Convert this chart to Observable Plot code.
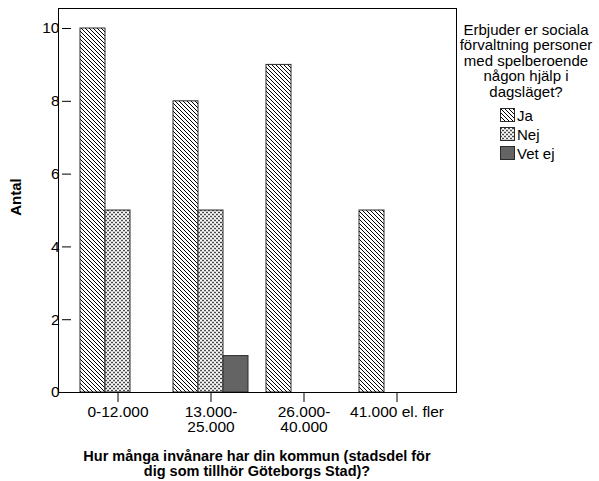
<!DOCTYPE html>
<html><head><meta charset="utf-8">
<script src="https://cdn.jsdelivr.net/npm/d3@7"></script>
<script src="https://cdn.jsdelivr.net/npm/@observablehq/plot@0.6"></script>
<style>
body{margin:0;background:#fff;}
#wrap{position:relative;width:599px;height:481px;}
</style></head><body><div id="wrap"></div>
<script>
const categories = ["0-12.000", "13.000-\n25.000", "26.000-\n40.000", "41.000 el. fler"];
const seriesNames = ["Ja", "Nej", "Vet ej"];
const jaValues = [10, 8, 9, 5];
const nejValues = [5, 5, 0, 0];
const vetEjValues = [0, 1, 0, 0];
const yTicks = [0, 2, 4, 6, 8, 10];
const legendTitle = ["Erbjuder er sociala", "förvaltning personer", "med spelberoende", "någon hjälp i", "dagsläget?"];
const xTitle = ["Hur många invånare har din kommun (stadsdel för", "dig som tillhör Göteborgs Stad)?"];
const yTitle = "Antal";

(function () {
const FONT = "'Liberation Sans', Arial, sans-serif";
const fills = ["url(#pat-ja)", "url(#pat-nej)", "#646464"];

const data = [];
categories.forEach((c, i) => {
  [jaValues, nejValues, vetEjValues].forEach((arr, j) => {
    data.push({category: c, series: seriesNames[j], value: arr[i]});
  });
});

const plot = Plot.plot({
  width: 599, height: 481,
  marginLeft: 58, marginRight: 143, marginTop: 8, marginBottom: 89,
  style: {fontFamily: FONT, fontSize: "15.5px", color: "#000", background: "#fff", overflow: "visible"},
  fx: {domain: categories, paddingInner: 0, paddingOuter: 0.118, axis: "bottom", label: null, tickSize: 10, tickPadding: 3},
  x: {domain: seriesNames, paddingInner: 0, paddingOuter: 0.345, axis: null},
  y: {domain: [0, 10.55], ticks: yTicks, tickSize: 9, tickPadding: 3, label: null},
  color: {domain: seriesNames, range: fills},
  marks: [
    Plot.barY(data, {fx: "category", x: "series", y: "value", fill: "series", stroke: "#2a2a2a", strokeWidth: 1})
  ]
});

document.getElementById("wrap").appendChild(plot);
const svg = d3.select(plot);
svg.selectAll("g[aria-label*='tick label']").attr("font-size", 15.5).attr("font-family", FONT);
svg.selectAll("g[aria-label*='tick label'] text").attr("font-size", 15.5);

// patterns
const defs = svg.insert("defs", ":first-child");
const pJa = defs.append("pattern").attr("id", "pat-ja").attr("patternUnits", "userSpaceOnUse").attr("width", 4).attr("height", 4);
pJa.append("rect").attr("width", 4).attr("height", 4).attr("fill", "#fff");
pJa.append("path").attr("d", "M-1,-1L5,5M-1,3L1,5M3,-1L5,1").attr("stroke", "#000").attr("stroke-width", 1);
const pNej = defs.append("pattern").attr("id", "pat-nej").attr("patternUnits", "userSpaceOnUse").attr("width", 4).attr("height", 4);
pNej.append("rect").attr("width", 4).attr("height", 4).attr("fill", "#cfcfcf");
pNej.append("rect").attr("x", 0).attr("y", 0).attr("width", 2).attr("height", 1).attr("fill", "#4a4a4a");
pNej.append("rect").attr("x", 2).attr("y", 2).attr("width", 2).attr("height", 1).attr("fill", "#4a4a4a");
pNej.append("rect").attr("x", 2).attr("y", 0).attr("width", 2).attr("height", 1).attr("fill", "#fff");
pNej.append("rect").attr("x", 0).attr("y", 2).attr("width", 2).attr("height", 1).attr("fill", "#fff");

// frame from the library's scales
const fxR = plot.scale("fx").range;
const yR = plot.scale("y").range;
const fLeft = Math.min(...fxR), fRight = Math.max(...fxR);
const fBottom = Math.max(...yR), fTop = Math.min(...yR);
svg.append("rect")
  .attr("x", fLeft + 0.5).attr("y", fTop + 0.5)
  .attr("width", fRight - fLeft).attr("height", fBottom - fTop)
  .attr("fill", "none").attr("stroke", "#000").attr("stroke-width", 1);

// axis titles
svg.append("text")
  .attr("transform", `translate(15,${(fTop + fBottom) / 2 - 3}) rotate(-90)`)
  .attr("text-anchor", "middle").attr("dominant-baseline", "central")
  .attr("font-family", FONT).attr("font-size", 15).attr("font-weight", "bold").attr("fill", "#000")
  .text(yTitle);
xTitle.forEach((t, i) => {
  svg.append("text")
    .attr("x", (fLeft + fRight) / 2).attr("y", 456 + i * 15)
    .attr("text-anchor", "middle").attr("dominant-baseline", "central")
    .attr("font-family", FONT).attr("font-size", 14.5).attr("font-weight", "bold").attr("fill", "#000")
    .text(t);
});

// legend
legendTitle.forEach((t, i) => {
  svg.append("text")
    .attr("x", 526).attr("y", 29 + i * 15.5)
    .attr("text-anchor", "middle").attr("dominant-baseline", "central")
    .attr("font-family", FONT).attr("font-size", 15).attr("fill", "#000")
    .text(t);
});
seriesNames.forEach((s, i) => {
  const cy = 115 + i * 19;
  svg.append("rect").attr("x", 500.5).attr("y", cy - 6.5).attr("width", 14).attr("height", 13)
    .attr("fill", fills[i]).attr("stroke", "#2a2a2a").attr("stroke-width", 1);
  svg.append("text").attr("x", 517).attr("y", cy)
    .attr("text-anchor", "start").attr("dominant-baseline", "central")
    .attr("font-family", FONT).attr("font-size", 15).attr("fill", "#000")
    .text(s);
});
})();
</script></body></html>
